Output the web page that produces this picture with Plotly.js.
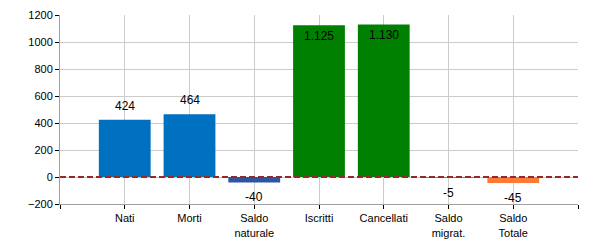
<!DOCTYPE html>
<html>
<head>
<meta charset="utf-8">
<script src="https://cdn.plot.ly/plotly-3.0.1.min.js"></script>
<style>html,body{margin:0;padding:0;background:#fff;}#chart{width:600px;height:250px;}</style>
</head>
<body>
<div id="chart"></div>
<script>
const categories = ["Nati", "Morti", "Saldo<br>naturale", "Iscritti", "Cancellati", "Saldo<br>migrat.", "Saldo<br>Totale"];
const values = [424, 464, -40, 1125, 1130, -5, -45];
const barColors = ["#0070C0", "#0070C0", "#2E55A2", "#008000", "#008000", "#5A6E3A", "#FF7A35"];
const labelInside = [false, false, false, true, true, false, false];
const yTicks = [-200, 0, 200, 400, 600, 800, 1000, 1200];

const positions = categories.map((c, i) => i);
const tickVals = [-1].concat(positions, [categories.length]);
const tickText = [""].concat(categories, [""]);

function fmt(v) {
  const s = Math.abs(v).toString().replace(/\B(?=(\d{3})+(?!\d))/g, ".");
  return (v < 0 ? "-" : "") + s;
}

const trace = {
  type: "bar",
  x: positions,
  y: values,
  width: 0.8,
  marker: {color: barColors, line: {width: 0}},
  cliponaxis: false,
  hoverinfo: "skip"
};

const annotations = values.map((v, i) => {
  let shift;
  if (labelInside[i]) shift = -11;
  else shift = v >= 0 ? 14 : -15;
  return {
    x: positions[i], y: v, xref: "x", yref: "y",
    text: fmt(v), showarrow: false,
    xanchor: "center", yanchor: "middle", yshift: shift,
    font: {family: "Liberation Sans, Arial, sans-serif", size: 12, color: "#000"}
  };
});

const layout = {
  width: 600, height: 250,
  margin: {l: 60, r: 22, t: 15, b: 46, pad: 0},
  paper_bgcolor: "#fff", plot_bgcolor: "#fff",
  showlegend: false,
  font: {family: "Liberation Sans, Arial, sans-serif", size: 11, color: "#000"},
  xaxis: {
    range: [-1, categories.length],
    tickmode: "array", tickvals: tickVals, ticktext: tickText,
    showgrid: true, gridcolor: "#CCCCCC", gridwidth: 1,
    zeroline: false,
    showline: true, linecolor: "#A0A0A0", linewidth: 1,
    ticks: "outside", ticklen: 4, tickcolor: "#000", tickwidth: 1,
    tickfont: {size: 11, color: "#000"},
    fixedrange: true
  },
  yaxis: {
    range: [-200, 1200],
    tickmode: "array", tickvals: yTicks,
    showgrid: true, gridcolor: "#CCCCCC", gridwidth: 1,
    zeroline: false,
    showline: true, linecolor: "#A0A0A0", linewidth: 1,
    ticks: "outside", ticklen: 4, tickcolor: "#000", tickwidth: 1,
    tickfont: {size: 11, color: "#000"},
    fixedrange: true
  },
  annotations: annotations,
  shapes: [{
    type: "line", xref: "paper", yref: "y", x0: 0, x1: 1, y0: 0, y1: 0,
    line: {color: "#962828", width: 2, dash: "6px,3px"}, layer: "above"
  }]
};

Plotly.newPlot("chart", [trace], layout, {staticPlot: true, displayModeBar: false});
</script>
</body>
</html>
